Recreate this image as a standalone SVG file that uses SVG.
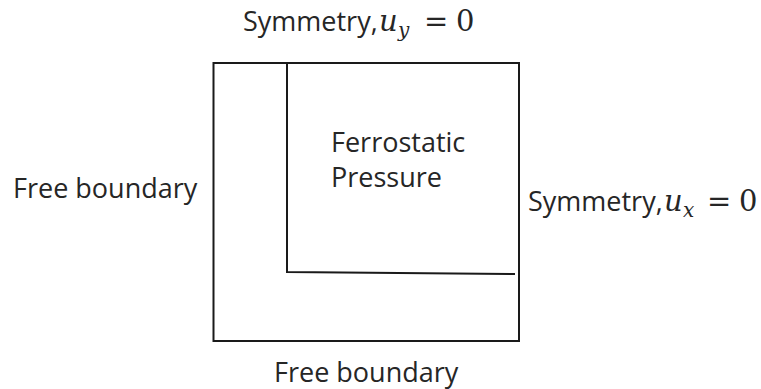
<svg xmlns="http://www.w3.org/2000/svg" width="761" height="389" viewBox="0 0 761 389">
  <style>
    .lbl { font-family: "Open Sans", "Noto Sans", "Liberation Sans", sans-serif; font-size: 27px; fill: #262626; }
    .math { font-family: "DejaVu Serif", "Liberation Serif", serif; font-size: 29px; fill: #262626; }
    .mi { font-style: italic; }
    .sub { font-family: "DejaVu Serif", "Liberation Serif", serif; font-size: 20px; font-style: italic; fill: #262626; }
    .edge { fill: none; stroke: #1a1a1a; stroke-width: 2; }
  </style>
  <rect width="761" height="389" fill="#ffffff"/>
  <g id="domain">
    <rect class="edge" x="213.5" y="63" width="305.5" height="278"/>
  </g>
  <g id="connectors">
    <polyline class="edge" points="287,63 287,272 515,274"/>
  </g>
  <g id="ferrostatic">
    <text class="lbl" x="331" y="152">Ferrostatic</text>
    <text class="lbl" x="331" y="187">Pressure</text>
  </g>
  <g id="top-label">
    <text class="lbl" x="243" y="31">Symmetry,</text>
    <text class="math mi" x="379" y="31">u</text>
    <text class="sub" x="398" y="37">y</text>
    <text class="math" x="424" y="31">=</text>
    <text class="math" x="456" y="31">0</text>
  </g>
  <g id="right-label">
    <text class="lbl" x="528" y="211">Symmetry,</text>
    <text class="math mi" x="664" y="211">u</text>
    <text class="sub" x="683" y="217">x</text>
    <text class="math" x="707" y="211">=</text>
    <text class="math" x="739" y="211">0</text>
  </g>
  <g id="left-label">
    <text class="lbl" x="13" y="198">Free boundary</text>
  </g>
  <g id="bottom-label">
    <text class="lbl" x="274" y="382">Free boundary</text>
  </g>
</svg>
